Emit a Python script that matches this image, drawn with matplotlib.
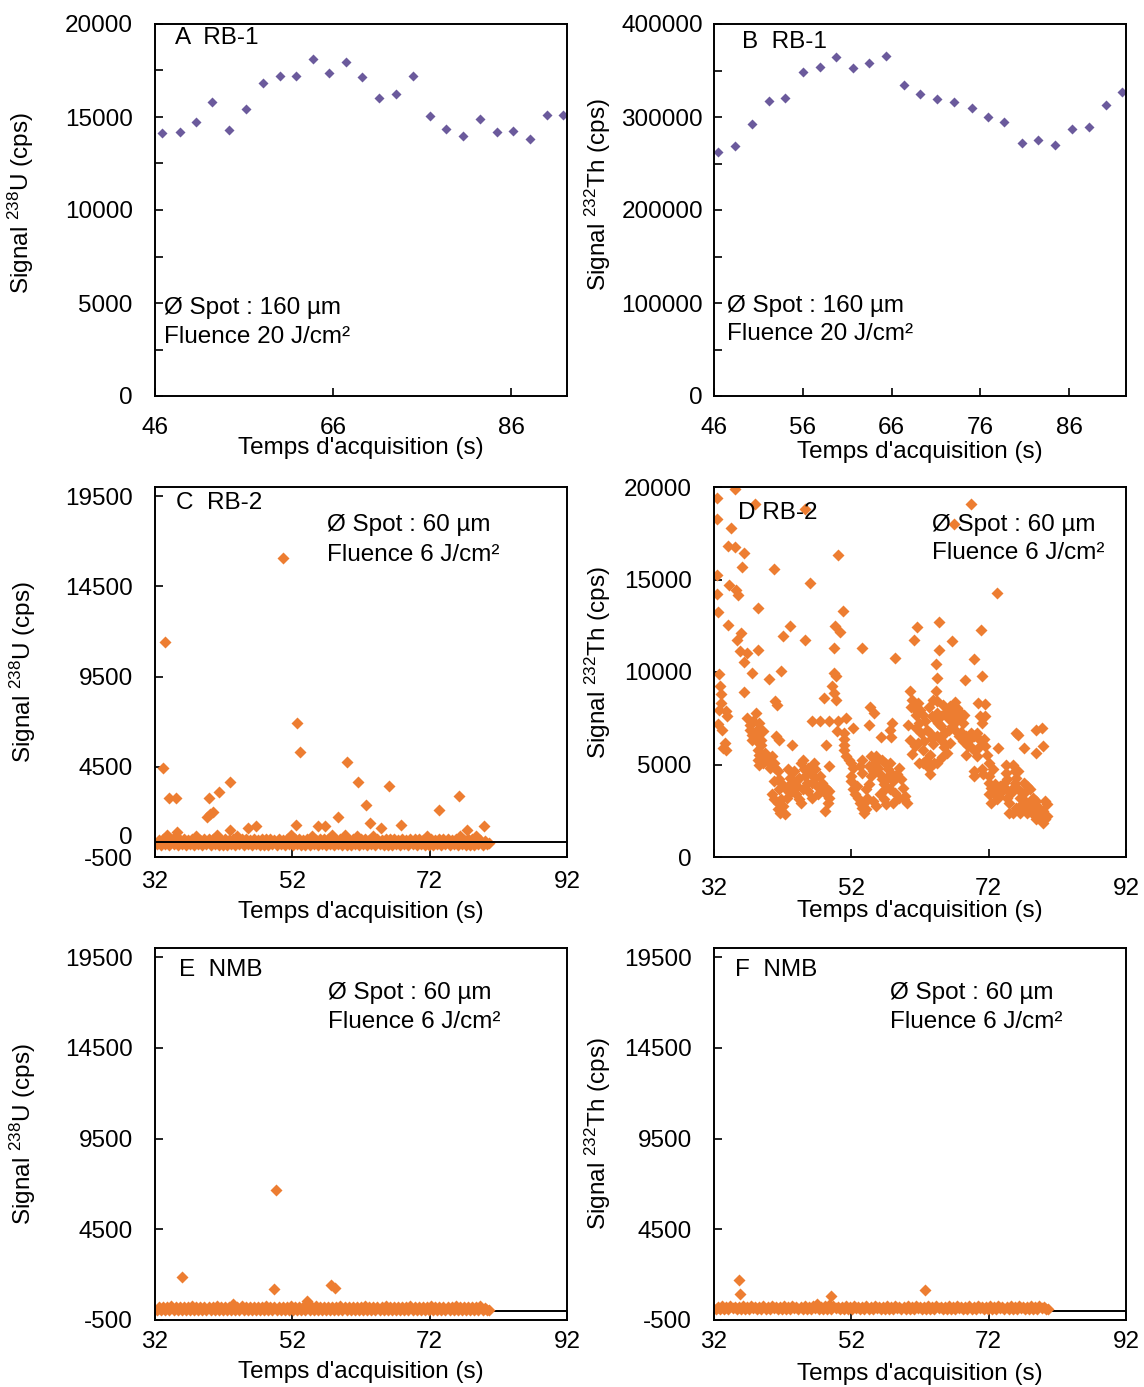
import matplotlib
matplotlib.use('Agg')
import matplotlib.pyplot as plt
import matplotlib.transforms as mtransforms
from matplotlib.ticker import MultipleLocator

# ---- data ----
# A / B : RB-1, spot 160 um
a_time = [46.8, 48.8, 50.6, 52.4, 54.3, 56.2, 58.1, 60.0, 61.8, 63.8, 65.6, 67.5, 69.3,
          71.2, 73.1, 75.0, 76.9, 78.7, 80.6, 82.5, 84.4, 86.2, 88.1, 90.0, 91.8]
a_u238 = [14160, 14190, 14710, 15790, 14280, 15410, 16830, 17200, 17200, 18120, 17370, 17980, 17130,
          16020, 16250, 17200, 15070, 14340, 13980, 14890, 14210, 14250, 13800, 15130, 15130]

b_time = [46.5, 48.4, 50.3, 52.2, 54.0, 56.0, 57.9, 59.7, 61.6, 63.5, 65.4, 67.4, 69.2,
          71.1, 73.0, 75.0, 76.9, 78.7, 80.7, 82.5, 84.4, 86.3, 88.2, 90.1, 92.0]
b_th232 = [262600, 269000, 293000, 317000, 320200, 348100, 354200, 364200, 352400, 358500, 365700,
           334500, 324200, 319100, 316600, 309500, 300500, 294100, 272300, 275500, 269800,
           286900, 289400, 312700, 327400]

# background band time bases for C, E, F (s): lower and upper envelope of the noise band
t_band = [32.3, 32.9, 33.5, 34.1, 34.7, 35.3, 35.9, 36.5, 37.1, 37.7, 38.3, 38.9, 39.5, 40.1,
          40.7, 41.3, 41.9, 42.5, 43.1, 43.7, 44.3, 44.9, 45.5, 46.1, 46.7, 47.3, 47.9, 48.5,
          49.1, 49.7, 50.3, 50.9, 51.5, 52.1, 52.7, 53.3, 53.9, 54.5, 55.1, 55.7, 56.3, 56.9,
          57.5, 58.1, 58.7, 59.3, 59.9, 60.5, 61.1, 61.7, 62.3, 62.9, 63.5, 64.1, 64.7, 65.3,
          65.9, 66.5, 67.1, 67.7, 68.3, 68.9, 69.5, 70.1, 70.7, 71.3, 71.9, 72.5, 73.1, 73.7,
          74.3, 74.9, 75.5, 76.1, 76.7, 77.3, 77.9, 78.5, 79.1, 79.7, 80.3, 80.6]
t_band2 = [32.6, 33.2, 33.8, 34.4, 35.0, 35.6, 36.2, 36.8, 37.4, 38.0, 38.6, 39.2, 39.8, 40.4,
           41.0, 41.6, 42.2, 42.8, 43.4, 44.0, 44.6, 45.2, 45.8, 46.4, 47.0, 47.6, 48.2, 48.8,
           49.4, 50.0, 50.6, 51.2, 51.8, 52.4, 53.0, 53.6, 54.2, 54.8, 55.4, 56.0, 56.6, 57.2,
           57.8, 58.4, 59.0, 59.6, 60.2, 60.8, 61.4, 62.0, 62.6, 63.2, 63.8, 64.4, 65.0, 65.6,
           66.2, 66.8, 67.4, 68.0, 68.6, 69.2, 69.8, 70.4, 71.0, 71.6, 72.2, 72.8, 73.4, 74.0,
           74.6, 75.2, 75.8, 76.4, 77.0, 77.6, 78.2, 78.8, 79.4, 80.0]

# C : RB-2 238U
c_low = [200, 170, 220, 160, 210, 180, 230, 150, 200, 170, 220, 160, 210, 180,
         230, 150, 190, 170, 220, 160, 200, 180, 230, 150, 210, 170, 190, 160,
         220, 180, 200, 150, 230, 170, 210, 160, 190, 180, 220, 150, 200, 170,
         230, 160, 210, 180, 190, 150, 220, 170, 200, 160, 230, 180, 210, 150,
         190, 170, 220, 160, 200, 180, 230, 150, 210, 170, 190, 160, 220, 180,
         200, 150, 230, 170, 210, 160, 190, 180, 220, 150, 200, 260]
c_high = [460, 490, 700, 470, 690, 450, 500, 460, 480, 660, 450, 490, 470, 500,
          700, 460, 480, 450, 490, 680, 470, 500, 450, 480, 460, 490, 470, 500,
          450, 480, 460, 490, 720, 470, 500, 450, 480, 680, 460, 490, 470, 500,
          700, 450, 480, 720, 460, 490, 650, 470, 500, 450, 690, 480, 460, 490,
          470, 500, 450, 480, 460, 490, 470, 500, 450, 650, 480, 460, 490, 470,
          500, 450, 480, 680, 460, 490, 470, 660, 450, 400]
c_peaks = [(50.6, 16090), (33.4, 11420), (33.2, 4440), (34.1, 2750), (35.1, 2750),
           (39.8, 2750), (41.3, 3080), (42.9, 3640), (39.6, 1740), (40.0, 1900),
           (40.4, 2010), (52.7, 6950), (53.1, 5330), (59.9, 4740), (61.5, 3640),
           (62.8, 2380), (63.3, 1370), (64.9, 1100), (66.1, 3410), (67.8, 1280),
           (73.4, 2130), (76.3, 2900), (77.5, 1020), (79.9, 1210), (52.5, 1280),
           (58.6, 1740), (56.8, 1240), (45.6, 1100), (46.7, 1210), (42.9, 970),
           (35.2, 880), (55.7, 1190)]
c_zero = 350

# D : RB-2 232Th
d_points = [
    (32.4, 19430), (32.4, 18290), (35.0, 19910), (38.0, 19100), (45.3, 18830), (69.4, 19100),
    (67.0, 18020), (34.5, 17810), (34.1, 16800), (35.0, 16770), (36.4, 16410), (50.0, 16350),
    (36.1, 15700), (40.8, 15560), (46.0, 14830), (73.2, 14270), (32.5, 15240), (32.5, 14200),
    (34.2, 14700), (35.2, 14430), (35.5, 14160), (32.6, 13260), (38.4, 13480), (50.8, 13300),
    (34.1, 12540), (35.9, 12090), (43.0, 12510), (49.6, 12490), (50.4, 12180), (61.5, 12450),
    (64.7, 12720), (70.9, 12270), (35.4, 11730), (42.0, 11970), (45.3, 11730), (61.1, 11730),
    (66.6, 11680), (53.5, 11320), (49.5, 11320), (35.8, 11110), (36.8, 11050), (38.4, 11200),
    (64.7, 11200), (36.3, 10530), (58.4, 10780), (69.9, 10710), (37.5, 9940), (41.8, 10030),
    (32.8, 9900), (49.5, 9940), (49.8, 9760), (64.3, 10420), (64.5, 9670), (40.0, 9630),
    (68.6, 9580), (71.1, 9790), (32.9, 9270), (60.5, 9000), (64.3, 9000), (36.4, 8910),
    (33.0, 8800), (49.2, 9220), (49.5, 8890), (48.0, 8590), (49.8, 8500), (40.9, 8450),
    (33.0, 8320), (41.2, 8230), (64.5, 8410), (70.5, 8320), (71.4, 8270), (54.7, 8090),
    (60.7, 8100), (32.8, 7960), (33.7, 7870), (33.9, 7600), (67.1, 8370), (36.8, 7510),
    (38.1, 7780), (55.3, 7780), (61.6, 7870), (62.5, 7690), (67.6, 7960), (68.4, 7690),
    (66.4, 8140), (66.9, 7240), (66.1, 7510), (46.2, 7330), (47.5, 7330), (48.8, 7330),
    (50.0, 7330), (51.2, 7510), (57.9, 7240), (71.5, 7600), (37.2, 7150), (38.5, 6970),
    (60.2, 7150), (61.4, 6970), (64.6, 7240), (65.0, 7060), (65.7, 6700), (32.6, 7190),
    (33.2, 6850), (33.6, 6160), (33.7, 5800), (33.3, 5890), (37.2, 6880), (37.5, 6610),
    (38.3, 6700), (38.8, 6340), (37.6, 6340), (41.0, 6520), (41.5, 6340), (49.9, 6830),
    (51.0, 6700), (52.3, 6970), (54.6, 7150), (57.7, 6880), (57.8, 6470), (56.3, 6490),
    (64.5, 6520), (63.4, 6700), (63.8, 6430), (65.2, 6250), (67.9, 6760), (68.7, 6520),
    (69.4, 6700), (69.9, 6520), (70.3, 6700), (70.7, 6310), (71.3, 6380), (69.0, 5980),
    (69.6, 5890), (70.8, 5980), (71.5, 5980), (71.7, 5530), (73.4, 5890), (77.1, 5890),
    (79.9, 5980), (78.9, 5620), (79.7, 6970), (78.9, 6880), (76.0, 6700), (76.3, 6610),
    (68.7, 5530), (43.3, 6040), (48.3, 6070), (50.9, 6380), (50.9, 6070), (38.2, 6250),
    (38.9, 6070), (60.6, 6340), (61.2, 5980), (61.7, 6160), (62.5, 5800), (62.6, 6250),
    (63.9, 6130), (65.5, 5930), (65.9, 5620), (60.9, 5590), (61.9, 5090), (62.9, 5270),
    (63.5, 5530), (64.0, 5090), (63.3, 4820), (62.5, 5090), (65.2, 5410), (64.5, 5090),
    (63.5, 4510), (71.0, 4730), (71.2, 4510), (72.6, 4730), (72.1, 4370), (74.5, 5000),
    (74.5, 4550), (75.5, 5000), (75.8, 4640),
    (38.4, 5800), (38.6, 5530), (38.9, 5360), (39.4, 5620), (39.7, 5270), (40.0, 5090),
    (40.5, 5450), (40.7, 5090), (40.9, 4820), (38.4, 5270), (39.2, 5090), (40.2, 4820),
    (38.6, 5000),
    (41.3, 4640), (41.5, 4190), (41.8, 4010), (42.8, 4730), (43.1, 4280), (43.6, 4640),
    (43.9, 4100), (44.1, 3830), (44.4, 4280), (44.7, 5090), (45.0, 5270), (45.1, 4730),
    (45.2, 4370), (45.7, 4820), (46.0, 4550), (46.2, 4010), (46.5, 5090), (46.7, 4730),
    (46.7, 4280), (47.0, 3830), (47.4, 4370), (47.8, 4010), (48.0, 3650), (48.3, 3380),
    (48.8, 3560), (48.7, 3200), (48.6, 2930), (48.2, 2480), (48.3, 3740), (48.8, 4910),
    (43.6, 3650), (43.1, 3470), (43.9, 3380), (44.4, 3110), (44.7, 2930), (42.6, 3200),
    (41.8, 3110), (41.3, 2930), (41.3, 2570), (41.6, 2390), (42.3, 2300), (42.0, 2750),
    (40.7, 3110), (40.5, 3380), (40.7, 4100), (41.5, 3650), (42.3, 3740), (45.0, 3650),
    (45.7, 3560), (46.2, 3200), (47.1, 3380), (45.5, 4010), (43.1, 3920),
    (51.0, 5800), (51.2, 5450), (51.7, 5270), (52.0, 5090), (52.2, 4820), (52.0, 4370),
    (52.0, 4100), (52.2, 3650), (52.5, 3380), (52.8, 3830), (53.0, 3200), (53.3, 2930),
    (53.5, 2660), (53.8, 2390), (54.1, 2570), (53.8, 2930), (54.3, 3200), (54.1, 3650),
    (54.6, 3920), (54.9, 4370), (55.1, 4640), (54.6, 4910), (55.4, 5090), (55.6, 5450),
    (55.9, 4820), (56.2, 4460), (56.4, 4190), (56.7, 3920), (56.9, 3650), (56.2, 3380),
    (56.7, 3110), (57.1, 2840), (55.6, 2750), (55.1, 3020), (57.3, 4730), (57.6, 5090),
    (57.8, 4550), (58.1, 4100), (58.6, 4460), (58.9, 4820), (59.2, 4190), (59.5, 3740),
    (59.8, 3290), (60.1, 2930), (59.7, 3110), (58.9, 3200), (58.4, 3470), (57.6, 3650),
    (58.1, 2930), (57.2, 4280), (56.9, 5090), (56.4, 5270), (54.9, 5450), (53.5, 5270),
    (53.3, 4910), (53.5, 4550),
    (61.4, 7690), (61.9, 7240), (62.7, 7330), (62.2, 6700), (63.0, 6880), (63.8, 7600),
    (64.3, 7420), (64.5, 7780), (65.0, 7600), (65.6, 7780), (66.1, 7870), (66.6, 7600),
    (67.1, 7780), (67.4, 7420), (67.9, 7510), (68.2, 7240), (66.6, 7060), (67.1, 6880),
    (66.2, 6880), (67.7, 6520), (68.2, 6250), (63.9, 8500), (60.9, 8500), (61.7, 8320),
    (62.0, 7960), (63.3, 8100), (67.4, 8050), (65.3, 8230), (65.0, 6520), (66.3, 6160),
    (69.0, 6250), (70.0, 5710), (70.3, 5450), (69.8, 4640), (69.8, 4370), (70.8, 7600),
    (71.0, 7240), (72.0, 5090),
    (72.1, 4010), (72.4, 3740), (72.6, 3470), (72.9, 3920), (73.2, 3650), (73.4, 3290),
    (73.7, 3830), (73.9, 3560), (74.2, 4010), (74.5, 3650), (74.7, 3200), (75.0, 2930),
    (75.3, 3470), (75.5, 3740), (75.8, 4010), (76.0, 4280), (76.3, 3650), (76.6, 3200),
    (76.8, 2840), (75.5, 2390), (76.0, 2660), (77.1, 3470), (77.3, 3020), (77.6, 2750),
    (77.9, 2480), (78.1, 2930), (78.4, 2570), (78.7, 2210), (78.9, 2030), (79.2, 2390),
    (79.4, 2120), (79.7, 1940), (79.9, 1850), (80.2, 2030), (80.5, 2210), (80.5, 2840),
    (80.2, 3020), (78.0, 3650), (78.4, 3200), (77.6, 3830), (77.1, 4010), (76.3, 4640),
    (74.7, 4190), (73.2, 3110), (72.4, 2930), (72.0, 3380), (77.6, 2390), (77.1, 2570),
    (79.4, 2660), (78.9, 3020), (79.9, 2480), (76.6, 2390), (75.0, 2390),
    (37.7, 7330), (38.5, 7240), (39.2, 6790),
]

# E : NMB 238U
e_low = [50, 30, 60, 40, 70, 50, 30, 60, 40, 70, 50, 30, 60, 40,
         70, 50, 30, 60, 40, 70, 50, 30, 60, 40, 70, 50, 30, 60,
         40, 70, 50, 30, 60, 40, 70, 50, 30, 60, 40, 70, 50, 30,
         60, 40, 70, 50, 30, 60, 40, 70, 50, 30, 60, 40, 70, 50,
         30, 60, 40, 70, 50, 30, 60, 40, 70, 50, 30, 60, 40, 70,
         50, 30, 60, 40, 70, 50, 30, 60, 40, 70, 50, 60]
e_high = [220, 240, 210, 250, 230, 200, 240, 220, 250, 210, 230, 240, 200, 220,
          250, 230, 210, 240, 400, 220, 250, 200, 230, 240, 210, 220, 250, 230,
          200, 240, 220, 210, 250, 230, 240, 200, 520, 220, 250, 210, 230, 240,
          200, 220, 250, 230, 210, 240, 220, 200, 250, 230, 240, 210, 220, 250,
          230, 200, 240, 220, 210, 250, 230, 240, 200, 220, 250, 210, 230, 240,
          200, 220, 250, 230, 210, 240, 220, 200, 250, 180]
e_peaks = [(49.55, 6660), (35.9, 1860), (49.4, 1210), (57.7, 1450), (58.2, 1270)]

# F : NMB 232Th
f_low = [120, 100, 130, 110, 140, 120, 100, 130, 110, 140, 120, 100, 130, 110,
         140, 120, 100, 130, 110, 140, 120, 100, 130, 110, 140, 120, 100, 130,
         110, 140, 120, 100, 130, 110, 140, 120, 100, 130, 110, 140, 120, 100,
         130, 110, 140, 120, 100, 130, 110, 140, 120, 100, 130, 110, 140, 120,
         100, 130, 110, 140, 120, 100, 130, 110, 140, 120, 100, 130, 110, 140,
         120, 100, 130, 110, 140, 120, 100, 130, 110, 140, 120, 130]
f_high = [240, 260, 230, 250, 220, 240, 260, 230, 250, 220, 240, 260, 230, 250,
          220, 240, 260, 230, 250, 220, 240, 260, 230, 250, 380, 240, 260, 300,
          250, 220, 240, 260, 230, 250, 220, 240, 260, 230, 250, 220, 240, 260,
          230, 250, 220, 240, 260, 230, 250, 220, 240, 260, 230, 250, 220, 240,
          260, 230, 250, 220, 240, 260, 230, 250, 220, 240, 260, 230, 250, 220,
          240, 260, 230, 250, 220, 240, 260, 230, 250, 200]
f_peaks = [(35.7, 1720), (35.8, 940), (49.0, 800), (62.8, 1170)]

# ---- style ----
plt.rcParams['font.family'] = ['Liberation Sans', 'DejaVu Sans']
plt.rcParams['mathtext.fontset'] = 'custom'
plt.rcParams['mathtext.rm'] = 'Liberation Sans'
plt.rcParams['mathtext.default'] = 'regular'
plt.rcParams['font.size'] = 17.5
plt.rcParams['axes.unicode_minus'] = False

purple = '#6B5A9C'
orange = '#ED7D31'
W, H = 1144, 1387


def style_axes(ax, xlim, xticks, ylim, yticks, minor_y=None, xpad=15, ypad=16):
    ax.set_xlim(xlim)
    ax.set_xticks(xticks)
    ax.set_ylim(ylim)
    ax.set_yticks(yticks)
    if minor_y:
        ax.yaxis.set_minor_locator(MultipleLocator(minor_y))
    ax.tick_params(which='both', direction='in', length=6, width=1.2)
    ax.tick_params(axis='x', pad=xpad)
    ax.tick_params(axis='y', pad=ypad)
    for s in ax.spines.values():
        s.set_linewidth(1.4)


def labels(ax, ylabel, ylx, yly, xly):
    ax.set_xlabel("Temps d'acquisition (s)")
    ax.xaxis.set_label_coords(0.5, xly)
    ax.set_ylabel(ylabel)
    ax.yaxis.set_label_coords(ylx, yly)


def ftext(x, y, s):
    fig.text(x / W, 1 - y / H, s, ha='left', va='center')


def dots(ax, x, y, color, ms):
    ax.plot(x, y, 'D', color=color, ms=ms, mec='none')


fig = plt.figure(figsize=(W / 100, H / 100), dpi=100)
lx, rx = 155 / W, 714 / W
cw = 412 / W
row_y = [(1387 - 396) / H, (1387 - 857) / H, (1387 - 1320) / H]
row_h = [372 / H, 370 / H, 372 / H]

ax1 = fig.add_axes([lx, row_y[0], cw, row_h[0]])
ax2 = fig.add_axes([rx, row_y[0], cw, row_h[0]])
ax3 = fig.add_axes([lx, row_y[1], cw, row_h[1]])
ax4 = fig.add_axes([rx, row_y[1], cw, row_h[1]])
ax5 = fig.add_axes([lx, row_y[2], cw, row_h[2]])
ax6 = fig.add_axes([rx, row_y[2], cw, row_h[2]])

ms_p = 5.4
ms_o = 5.9

# A
dots(ax1, a_time, a_u238, purple, ms_p)
style_axes(ax1, (46, 92.3), [46, 66, 86], (0, 20000), range(0, 20001, 5000), minor_y=2500,
           xpad=15, ypad=16)
labels(ax1, 'Signal $^{238}$U (cps)', -0.29, 0.52, -0.11)

# B
dots(ax2, b_time, b_th232, purple, ms_p)
style_axes(ax2, (46, 92.4), [46, 56, 66, 76, 86], (0, 400000), range(0, 400001, 100000),
           minor_y=50000, xpad=15, ypad=8)
labels(ax2, 'Signal $^{232}$Th (cps)', -0.245, 0.54, -0.12)

# C  (zero line drawn over the noise band)
dots(ax3, t_band, c_low, orange, ms_o)
dots(ax3, t_band2, c_high, orange, ms_o)
cx, cy = zip(*c_peaks)
dots(ax3, cx, cy, orange, ms_o)
ax3.axhline(c_zero, color='black', lw=1.4)
style_axes(ax3, (32, 92), [32, 52, 72, 92], (-500, 20000), [-500, 4500, 9500, 14500, 19500],
           xpad=10, ypad=16)
zero_tr = mtransforms.blended_transform_factory(ax3.transAxes, ax3.transData) + \
    mtransforms.ScaledTranslation(0, 2.5 / 72, fig.dpi_scale_trans)
ax3.text(-16 / 72 * 100 / 412, c_zero, '0', transform=zero_tr, ha='right', va='center')
labels(ax3, 'Signal $^{238}$U (cps)', -0.285, 0.5, -0.12)

# D
dx, dy = zip(*d_points)
dots(ax4, dx, dy, orange, ms_o)
style_axes(ax4, (32, 92), [32, 52, 72, 92], (0, 20000), range(0, 20001, 5000),
           xpad=15, ypad=16)
labels(ax4, 'Signal $^{232}$Th (cps)', -0.245, 0.524, -0.115)

# E  (zero line hidden under the band)
ax5.axhline(0, color='black', lw=1.4, zorder=1)
dots(ax5, t_band, e_low, orange, ms_o)
dots(ax5, t_band2, e_high, orange, ms_o)
ex, ey = zip(*e_peaks)
dots(ax5, ex, ey, orange, ms_o)
style_axes(ax5, (32, 92), [32, 52, 72, 92], (-500, 20000), [-500, 4500, 9500, 14500, 19500],
           xpad=8, ypad=16)
labels(ax5, 'Signal $^{238}$U (cps)', -0.285, 0.5, -0.11)

# F
ax6.axhline(0, color='black', lw=1.4, zorder=1)
dots(ax6, t_band, f_low, orange, ms_o)
dots(ax6, t_band2, f_high, orange, ms_o)
fx, fy = zip(*f_peaks)
dots(ax6, fx, fy, orange, ms_o)
style_axes(ax6, (32, 92), [32, 52, 72, 92], (-500, 20000), [-500, 4500, 9500, 14500, 19500],
           xpad=8, ypad=16)
labels(ax6, 'Signal $^{232}$Th (cps)', -0.245, 0.5, -0.115)

# panel annotations
ftext(175, 38, 'A  RB-1')
ftext(164, 308, 'Ø Spot : 160 µm')
ftext(164, 337, 'Fluence 20 J/cm²')
ftext(742, 42, 'B  RB-1')
ftext(727, 306, 'Ø Spot : 160 µm')
ftext(727, 334, 'Fluence 20 J/cm²')
ftext(176, 503, 'C  RB-2')
ftext(327, 525, 'Ø Spot : 60 µm')
ftext(327, 555, 'Fluence 6 J/cm²')
ftext(738, 513, 'D RB-2')
ftext(932, 525, 'Ø Spot : 60 µm')
ftext(932, 553, 'Fluence 6 J/cm²')
ftext(179, 970, 'E  NMB')
ftext(328, 993, 'Ø Spot : 60 µm')
ftext(328, 1022, 'Fluence 6 J/cm²')
ftext(735, 970, 'F  NMB')
ftext(890, 993, 'Ø Spot : 60 µm')
ftext(890, 1022, 'Fluence 6 J/cm²')

fig.savefig('out.png', dpi=100)
